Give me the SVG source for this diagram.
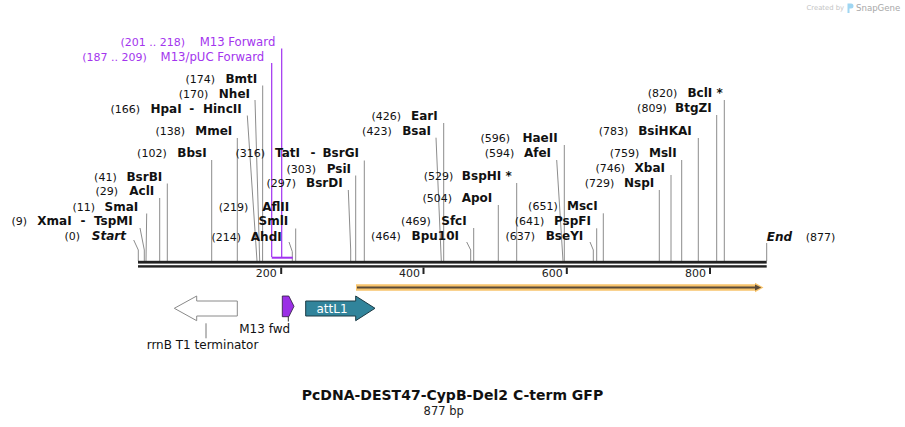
<svg xmlns="http://www.w3.org/2000/svg" width="905" height="427" viewBox="0 0 905 427">
<style>
text{font-family:"DejaVu Sans","Verdana",sans-serif;fill:#111}
.num{font-size:11px;text-anchor:end}
.nm{font-size:12px;font-weight:bold;text-anchor:end}
.it{font-style:italic}
.pnum{font-size:11px;text-anchor:end;fill:#a335ee}
.pnm{font-size:11.7px;text-anchor:end;fill:#a335ee}
.dash{font-size:12px;font-weight:bold;text-anchor:middle}
.ln{stroke:#8c8c8c;stroke-width:1;fill:none}
.pl{stroke:#a030f0;stroke-width:1.2;fill:none}
.tick{font-size:11px;text-anchor:end;fill:#222}
.feat{font-size:12px}
</style>
<rect width="905" height="427" fill="#fff"/>
<g id="watermark">
<text x="844" y="10" style="font-size:6.8px;fill:#c4c4c4;text-anchor:end">Created by</text>
<path d="M847.5,3.5 h3.5 a2.5,2.5 0 0 1 0,5 h-1.5 v4.5 h-2 z" fill="#9fd6f2"/>
<text x="856" y="10.5" style="font-size:8.6px;fill:#a8a8a8">SnapGene</text>
</g>
<g id="connectors">
<line class="pl" x1="281.7" y1="48.5" x2="281.7" y2="257"/>
<line class="pl" x1="271.7" y1="63" x2="271.7" y2="257"/>
<polyline class="ln" points="262.7,85.5 262.6,261"/>
<polyline class="ln" points="255,100 259.7,261"/>
<polyline class="ln" points="247.3,115.5 257,261"/>
<polyline class="ln" points="237.3,138 237.3,261"/>
<polyline class="ln" points="211.7,160 211.7,261"/>
<polyline class="ln" points="364.3,160.5 364.3,261"/>
<polyline class="ln" points="355.7,175.5 355.7,261"/>
<polyline class="ln" points="348.3,190 350.7,250 350.7,261"/>
<polyline class="ln" points="167.3,183.5 167.3,261"/>
<polyline class="ln" points="159.7,198 159.7,261"/>
<polyline class="ln" points="146.7,213.5 146,261"/>
<polyline class="ln" points="140,228 144.3,250 144.3,261"/>
<polyline class="ln" points="133.7,240 138.3,250 138.3,261"/>
<polyline class="ln" points="295.7,228.5 295.7,261"/>
<polyline class="ln" points="289,242 292.3,251.7 292.3,261"/>
<polyline class="ln" points="443.7,123 443.7,261"/>
<polyline class="ln" points="436,137.7 441.3,261"/>
<polyline class="ln" points="516.7,183 516.7,261"/>
<polyline class="ln" points="498.3,205 498.3,261"/>
<polyline class="ln" points="473.7,228 473.7,261"/>
<polyline class="ln" points="466.7,242 470.7,250 470.7,261"/>
<polyline class="ln" points="564.3,145 564.3,261"/>
<polyline class="ln" points="556.7,160 563,261"/>
<polyline class="ln" points="603.3,213.3 603.3,261"/>
<polyline class="ln" points="596.7,228.3 596.7,261"/>
<polyline class="ln" points="590,242 593.3,250 593.3,261"/>
<polyline class="ln" points="724.3,100 724.3,261"/>
<polyline class="ln" points="716.7,115 716.7,261"/>
<polyline class="ln" points="698.3,138 698.3,261"/>
<polyline class="ln" points="681.7,160 681.7,261"/>
<polyline class="ln" points="671,175 671,261"/>
<polyline class="ln" points="659.3,190 659.3,261"/>
<polyline class="ln" points="766.7,243 766.7,261"/>
<line x1="206" y1="323.3" x2="206" y2="338.3" stroke="#777" stroke-width="1"/>
<line x1="288.3" y1="316.7" x2="288.3" y2="321.5" stroke="#333" stroke-width="1"/>
</g>
<g id="backbone">
<rect x="138" y="260.8" width="628.7" height="2.8" fill="#222"/>
<rect x="138" y="265.2" width="628.7" height="2.4" fill="#222"/>
<rect x="271.7" y="256.7" width="21" height="2" fill="#a030f0"/>
<rect x="280.2" y="267.5" width="2" height="6.5" fill="#222"/>
<rect x="422.5" y="267.5" width="2" height="6.5" fill="#222"/>
<rect x="565.8" y="267.5" width="2" height="6.5" fill="#222"/>
<rect x="709" y="267.5" width="2" height="6.5" fill="#222"/>
<text class="tick" x="276.7" y="276.5">200</text>
<text class="tick" x="420" y="276.5">400</text>
<text class="tick" x="562.7" y="276.5">600</text>
<text class="tick" x="706" y="276.5">800</text>
</g>
<g id="site-m13-forward"><text class="pnum" x="185" y="46">(201 .. 218)</text><text class="pnm" x="275.3" y="46">M13 Forward</text></g>
<g id="site-m13-puc-forward"><text class="pnum" x="146.7" y="60.7">(187 .. 209)</text><text class="pnm" x="264.3" y="60.7">M13/pUC Forward</text></g>
<g id="site-bmti"><text class="num" x="215" y="83">(174)</text><text class="nm" x="257.3" y="83">BmtI</text></g>
<g id="site-nhei"><text class="num" x="208.3" y="97.5">(170)</text><text class="nm" x="250" y="97.5">NheI</text></g>
<g id="site-hpai"><text class="num" x="140" y="112.5">(166)</text><text class="nm" x="181.7" y="112.5">HpaI</text><text class="dash" x="191.7" y="112.5">-</text><text class="nm" x="241.7" y="112.5">HincII</text></g>
<g id="site-mmei"><text class="num" x="185" y="135">(138)</text><text class="nm" x="232.3" y="135">MmeI</text></g>
<g id="site-bbsi"><text class="num" x="166.7" y="157.3">(102)</text><text class="nm" x="206.7" y="157.3">BbsI</text></g>
<g id="site-tati"><text class="num" x="265" y="157.3">(316)</text><text class="nm" x="300" y="157.3">TatI</text><text class="dash" x="313" y="157.3">-</text><text class="nm" x="359" y="157.3">BsrGI</text></g>
<g id="site-psii"><text class="num" x="316" y="172.5">(303)</text><text class="nm" x="351" y="172.5">PsiI</text></g>
<g id="site-bsrdi"><text class="num" x="296" y="187.3">(297)</text><text class="nm" x="342.7" y="187.3">BsrDI</text></g>
<g id="site-bsrbi"><text class="num" x="116.7" y="180.5">(41)</text><text class="nm" x="162.3" y="180.5">BsrBI</text></g>
<g id="site-acli"><text class="num" x="118" y="195">(29)</text><text class="nm" x="154.3" y="195">AclI</text></g>
<g id="site-smai"><text class="num" x="95" y="210.5">(11)</text><text class="nm" x="138.3" y="210.5">SmaI</text></g>
<g id="site-xmai"><text class="num" x="27" y="225">(9)</text><text class="nm" x="71.7" y="225">XmaI</text><text class="dash" x="83" y="225">-</text><text class="nm" x="132.7" y="225">TspMI</text></g>
<g id="site-start"><text class="num" x="80" y="240">(0)</text><text class="nm it" x="126" y="240">Start</text></g>
<g id="site-aflii"><text class="num" x="248.3" y="210.5">(219)</text><text class="nm" x="289.3" y="210.5">AflII</text><text class="nm" x="288.3" y="225">SmlI</text></g>
<g id="site-ahdi"><text class="num" x="241" y="240.5">(214)</text><text class="nm" x="281.7" y="240.5">AhdI</text></g>
<g id="site-eari"><text class="num" x="401" y="120">(426)</text><text class="nm" x="437.7" y="120">EarI</text></g>
<g id="site-bsai"><text class="num" x="391.7" y="135">(423)</text><text class="nm" x="431" y="135">BsaI</text></g>
<g id="site-bsphi"><text class="num" x="453.3" y="180">(529)</text><text class="nm" x="511.7" y="180">BspHI *</text></g>
<g id="site-apoi"><text class="num" x="452" y="202.3">(504)</text><text class="nm" x="492.3" y="202.3">ApoI</text></g>
<g id="site-sfci"><text class="num" x="430.7" y="225">(469)</text><text class="nm" x="466.7" y="225">SfcI</text></g>
<g id="site-bpu10i"><text class="num" x="400.7" y="240">(464)</text><text class="nm" x="459" y="240">Bpu10I</text></g>
<g id="site-haeii"><text class="num" x="510" y="142.3">(596)</text><text class="nm" x="557.7" y="142.3">HaeII</text></g>
<g id="site-afei"><text class="num" x="514.3" y="157.3">(594)</text><text class="nm" x="551" y="157.3">AfeI</text></g>
<g id="site-msci"><text class="num" x="557.7" y="210">(651)</text><text class="nm" x="597.7" y="210">MscI</text></g>
<g id="site-pspfi"><text class="num" x="544.3" y="225">(641)</text><text class="nm" x="591" y="225">PspFI</text></g>
<g id="site-bseyi"><text class="num" x="535" y="240">(637)</text><text class="nm" x="583.3" y="240">BseYI</text></g>
<g id="site-bcli"><text class="num" x="677.3" y="96.7">(820)</text><text class="nm" x="722.7" y="96.7">BclI *</text></g>
<g id="site-btgzi"><text class="num" x="666.7" y="112.3">(809)</text><text class="nm" x="711.7" y="112.3">BtgZI</text></g>
<g id="site-bsihkai"><text class="num" x="628.3" y="135">(783)</text><text class="nm" x="691.7" y="135">BsiHKAI</text></g>
<g id="site-msli"><text class="num" x="639.3" y="156.7">(759)</text><text class="nm" x="676.7" y="156.7">MslI</text></g>
<g id="site-xbai"><text class="num" x="625" y="171.7">(746)</text><text class="nm" x="665" y="171.7">XbaI</text></g>
<g id="site-nspi"><text class="num" x="614.3" y="186.7">(729)</text><text class="nm" x="654.3" y="186.7">NspI</text></g>
<g id="site-end"><text class="nm it" x="766.7" y="240.5" style="text-anchor:start">End</text><text class="num" x="805.7" y="240.5" style="text-anchor:start">(877)</text></g>
<g id="feature-orange">
<polygon points="356,284.3 755,284.3 755,282.8 763.5,287.5 755,292.2 755,290.7 356,290.7" fill="#f8c46c"/>
<line x1="357" y1="287.5" x2="756" y2="287.5" stroke="#5a4a38" stroke-width="2"/>
<polygon points="755,284.4 761.2,287.5 755,290.6" fill="#5a4a38"/>
</g>
<g id="feature-rrnb">
<polygon points="237.3,301 196.7,301 196.7,296 174.3,308.3 196.7,320.7 196.7,316 237.3,316" fill="#fff" stroke="#8a8a8a" stroke-width="1"/>
<text class="feat" x="202.5" y="349" text-anchor="middle">rrnB T1 terminator</text>
</g>
<g id="feature-m13fwd">
<polygon points="282.3,296 288.8,296 294,306.3 288.8,316.7 282.3,316.7" fill="#9b2fe6" stroke="#2a1a3a" stroke-width="0.8"/>
<text class="feat" x="264.7" y="333.3" text-anchor="middle">M13 fwd</text>
</g>
<g id="feature-attl1">
<polygon points="305.7,301 355.7,301 355.7,296 375,308.3 355.7,320.7 355.7,316 305.7,316" fill="#31849b" stroke="#1c3a44" stroke-width="1"/>
<text class="feat" x="332" y="312.5" text-anchor="middle" style="fill:#fff">attL1</text>
</g>
<g id="title">
<text x="452.5" y="399.5" text-anchor="middle" style="font-size:14px;font-weight:bold">PcDNA-DEST47-CypB-Del2 C-term GFP</text>
<text x="443.7" y="414.5" text-anchor="middle" style="font-size:11.5px;fill:#222">877 bp</text>
</g>
</svg>
